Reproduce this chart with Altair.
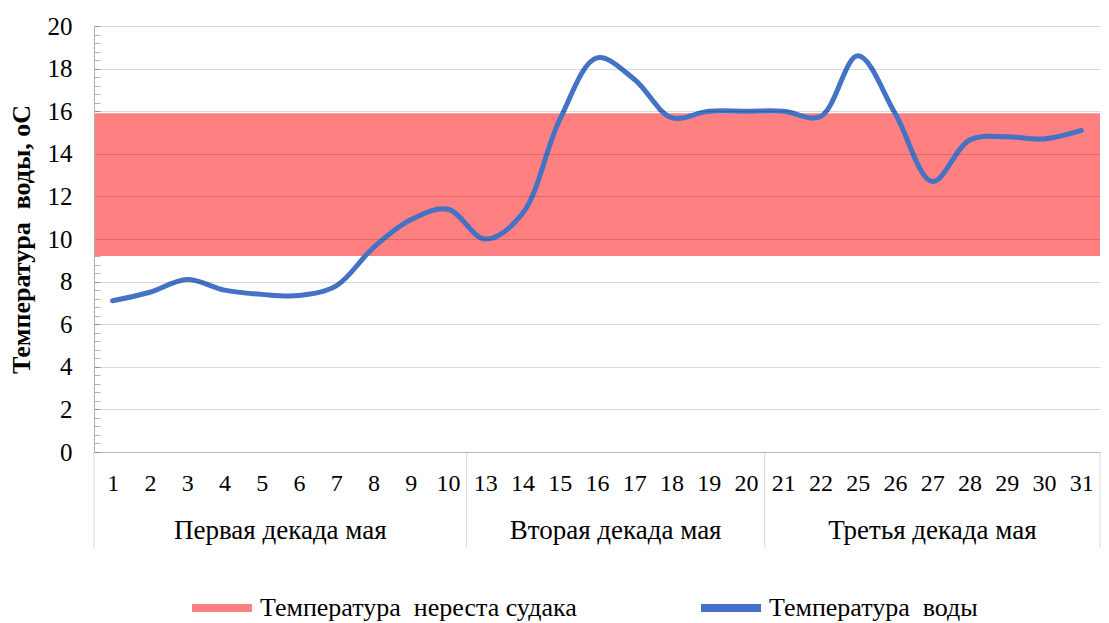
import altair as alt
import pandas as pd

# ---- data ----
days = ["1", "2", "3", "4", "5", "6", "7", "8", "9", "10",
        "13", "14", "15", "16", "17", "18", "19", "20",
        "21", "22", "25", "26", "27", "28", "29", "30", "31"]
water_temp = [7.1, 7.5, 8.1, 7.6, 7.4, 7.35, 7.8, 9.6, 10.9, 11.4,
              10.0, 11.2, 15.6, 18.5, 17.5, 15.7, 16.0, 16.0,
              16.0, 15.75, 18.6, 15.9, 12.7, 14.65, 14.8, 14.7, 15.1]
groups = ["Первая декада мая", "Вторая декада мая", "Третья декада мая"]
group_sizes = [10, 8, 9]
spawn_low = 9.2
spawn_high = 15.9
series_band = "Температура\u00a0 нереста судака"
series_line = "Температура\u00a0 воды"
y_ticks = [0, 2, 4, 6, 8, 10, 12, 14, 16, 18, 20]
y_minor = [round(i * 0.4, 1) for i in range(51)]
y_title = "Температура\u00a0 воды, оС"

FONT = "'Liberation Serif', 'Times New Roman', Times, serif"
W, H = 1006, 426

# ---- tables ----
line_df = pd.DataFrame({"idx": list(range(len(days))), "day": days,
                        "temp": water_temp, "series": series_line})
band_df = pd.DataFrame({"lo": [spawn_low], "hi": [spawn_high], "series": [series_band]})
starts = []
s = 0
for n in group_sizes:
    starts.append(s)
    s += n
grp_df = pd.DataFrame({"group": groups,
                       "mid": [st + (n - 1) / 2 for st, n in zip(starts, group_sizes)]})
sep_df = pd.DataFrame({"pos": [st - 0.5 for st in starts] + [len(days) - 0.5]})

label_js = "[" + ",".join("'" + d + "'" for d in days) + "]"
x_scale = alt.Scale(domain=[-0.5, len(days) - 0.5], nice=False, zero=False)
x_axis = alt.Axis(values=list(range(len(days))), labelExpr=label_js + "[datum.value]",
                  grid=False, ticks=False, domain=True, domainColor="#D9D9D9",
                  labelFont=FONT, labelFontSize=24, labelColor="#000000",
                  labelPadding=19, title=None)
y_scale = alt.Scale(domain=[0, 20], nice=False)
y_axis = alt.Axis(values=y_ticks, grid=True, gridColor="#000000", gridOpacity=0.15,
                  ticks=False, domainColor="#B0B0B0", labelFont=FONT, labelFontSize=25,
                  labelColor="#000000", labelPadding=22, title=y_title, titleFont=FONT,
                  titleFontSize=26, titleFontWeight="bold", titleColor="#000000",
                  titlePadding=13, zindex=1)

color = alt.Color("series:N",
                  scale=alt.Scale(domain=[series_band, series_line],
                                  range=["#FF8080", "#4472C4"]),
                  legend=alt.Legend(orient="none", legendX=115, legendY=569,
                                    direction="horizontal", title=None,
                                    symbolType="M-3,-0.4H3V0.4H-3Z", symbolSize=400,
                                    symbolStrokeWidth=0, labelOffset=25,
                                    columnPadding=124, labelFont=FONT,
                                    labelFontSize=26, labelColor="#000000",
                                    labelLimit=0))

band = alt.Chart(band_df).mark_rect().encode(
    y=alt.Y("lo:Q", scale=y_scale, axis=y_axis),
    y2="hi:Q",
    color=color,
)

line = alt.Chart(line_df).mark_line(interpolate="catmull-rom", strokeWidth=5,
                                    strokeCap="round", strokeJoin="round").encode(
    x=alt.X("idx:Q", scale=x_scale, axis=x_axis),
    y=alt.Y("temp:Q", scale=y_scale, axis=y_axis),
    color=color,
)

seps = alt.Chart(sep_df).mark_rule(color="#D9D9D9", strokeWidth=1).encode(
    x=alt.X("pos:Q", scale=x_scale, axis=x_axis),
    y=alt.value(H),
    y2=alt.value(H + 96),
)

grp_text = alt.Chart(grp_df).mark_text(font=FONT, fontSize=27, color="#000000",
                                       baseline="middle").encode(
    x=alt.X("mid:Q", scale=x_scale, axis=x_axis),
    y=alt.value(H + 79),
    text="group:N",
)

main = alt.layer(band, line, seps, grp_text)

minor = alt.Chart(line_df).mark_point(opacity=0).encode(
    x=alt.X("idx:Q", scale=x_scale, axis=x_axis),
    y=alt.Y("temp:Q", scale=y_scale,
            axis=alt.Axis(values=y_minor, orient="left", offset=-6, tickSize=6,
                          tickColor="#B0B0B0", labels=False, domain=False,
                          grid=False, title=None)),
)

chart = alt.layer(main, minor).resolve_axis(y="independent").properties(
    width=W, height=H,
    padding={"left": 0, "top": 6, "right": 0, "bottom": 0},
).configure_view(stroke=None)

chart.save("out.html", embed_options={"renderer": "svg", "actions": False})
